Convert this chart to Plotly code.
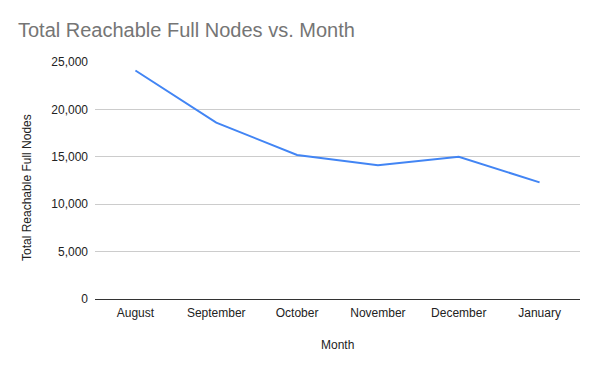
import plotly.graph_objects as go

months = ["August", "September", "October", "November", "December", "January"]
nodes = [24100, 18600, 15200, 14100, 15000, 12300]
y_ticks = [0, 5000, 10000, 15000, 20000, 25000]
y_tick_labels = ["0", "5,000", "10,000", "15,000", "20,000", "25,000"]

fig = go.Figure()
fig.add_trace(go.Scatter(
    x=months, y=nodes, mode="lines",
    line=dict(color="#4285F4", width=2),
    hoverinfo="x+y",
))

W, H = 592, 363
L, R, T, B = 87, 20, 54, 72
pw, ph = W - L - R, H - T - B

fig.update_layout(
    width=W, height=H,
    margin=dict(l=L, r=R, t=T, b=B),
    paper_bgcolor="white", plot_bgcolor="white",
    font=dict(family="Liberation Sans, Arial, sans-serif", size=12, color="#222222"),
    title=dict(text="Total Reachable Full Nodes vs. Month", x=10 / W, xanchor="left",
               y=1 - 22 / H, yanchor="middle",
               font=dict(size=20, color="#757575")),
    showlegend=False,
    xaxis=dict(
        type="category", range=[-0.5, 5.5],
        showgrid=False, zeroline=False, showline=False,
        ticks="", ticklabelstandoff=5, tickfont=dict(size=12, color="#222222"),
    ),
    yaxis=dict(
        range=[0, 25000], tickvals=y_ticks, ticktext=y_tick_labels,
        showgrid=True, gridcolor="#cccccc", gridwidth=1,
        zeroline=True, zerolinecolor="#333333", zerolinewidth=1,
        showline=False, ticks="", ticklabelstandoff=6,
        tickfont=dict(size=12, color="#222222"),
    ),
    annotations=[
        dict(text="Month", xref="paper", yref="paper",
             x=0.5, y=(H - B - 337) / ph, xanchor="center", yanchor="middle",
             showarrow=False, font=dict(size=12, color="#222222")),
        dict(text="Total Reachable Full Nodes", xref="paper", yref="paper",
             x=(19 - L) / pw, y=(H - B - 180) / ph, xanchor="center", yanchor="middle",
             textangle=-90, showarrow=False, font=dict(size=12, color="#222222")),
    ],
)

fig.write_html("out.html")
